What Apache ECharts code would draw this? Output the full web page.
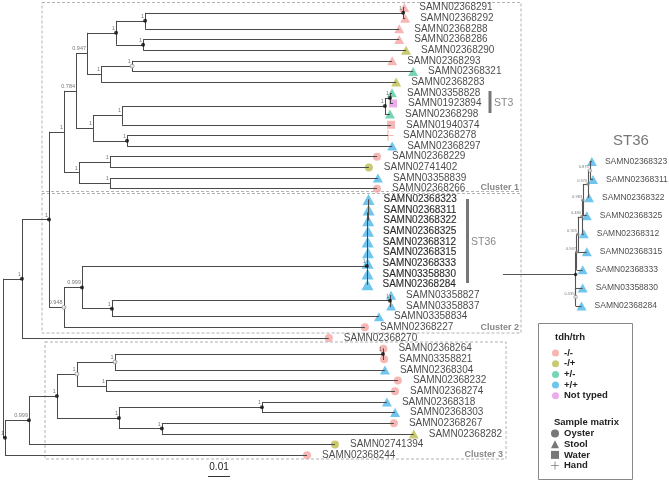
<!DOCTYPE html>
<html><head><meta charset="utf-8">
<script src="https://cdn.jsdelivr.net/npm/echarts@6/dist/echarts.min.js"></script>
<style>html,body{margin:0;padding:0;background:#fff}#c{width:669px;height:483px}</style>
</head><body><div id="c"></div>
<script>
// ---------------- DATA ----------------
// Newick clades (branch lengths in substitutions/site; internal label = support, suffix * = filled node, o = open node)
const cluster1Newick = "((((((SAMN02368291:0.0005,SAMN02368292:0.0009)1*:0.1173,SAMN02368288:0.1155)1*:0.0132,(SAMN02368286:0.1164,SAMN02368290:0.1195)1*:0.0123)1*:0.0132,((SAMN02368293:0.1182,SAMN02368321:0.1277)1o:0.0141,SAMN02368283:0.1341)1:0.0064)0.947:0.0050,((((SAMN03358828:0.0009,SAMN01923894:0.0014)1*:0.0023,SAMN02368298:0.0023)1*:0.1195,SAMN01940374:0.1223)1:0.0132,(SAMN02368278:0.1186,SAMN02368297:0.1205)1*:0.0155)1:0.0077)0.784:0.0055,((SAMN02368229:0.1214,SAMN02741402:0.1177)1:0.0141,(SAMN03358839:0.1218,SAMN02368266:0.1214)1:0.0141)1:0.0068)1:0.0068";
const cluster2Newick = "((ST36:0.1295,((SAMN03358827:0.0005,SAMN03358837:0.0005)1*:0.1264,SAMN03358834:0.1214)1*:0.0136)0.999*:0.0082,SAMN02368227:0.1368)0.948o:0.0068";
const cluster3Newick = "(((((SAMN02368264:0.0002,SAMN03358821:0.0005)1*:0.1218,SAMN02368304:0.1227)1o:0.0173,(SAMN02368232:0.1327,SAMN02368274:0.1314)1:0.0132)1o:0.0091,((SAMN02368318:0.0568,SAMN02368303:0.0605)1*:0.0650,(SAMN02368267:0.1055,SAMN02368282:0.1145)1*:0.0195)1*:0.0282)1*:0.0127,SAMN02741394:0.1391)0.999*:0.0109";
const st36Newick = "(((((((SAMN02368323:0.00009,SAMN02368311:0.00014)0.875o:0.00009,SAMN02368322:0.00005)0.970*:0.00023,SAMN02368325:0.00018)0.983*:0.00005,SAMN02368312:0.00009)0.480*:0.00018,SAMN02368315:0.00041)0.925*:0.00005,SAMN02368333:0.00027)0.947*:0.00005,(SAMN03358830:0.00032,SAMN02368284:0.00027)0.535o:0)*";
const rootNewick = "(((C1,C2)1*:0.0123,SAMN02368270:0.1395)1*:0.0086,(C3,SAMN02368244:0.1373)1*:0.0009)";

// leaf annotations, top-to-bottom order of the main tree
const leafTdh = ['-/-','-/-','-/-','-/-','-/+','-/-','+/-','-/+','+/-','Not typed','+/-','-/-','-/-','+/+','-/-','-/+','+/+','-/-',
  '+/+','+/+','+/+','+/+','+/+','+/+','+/+','+/+','+/+',
  '+/+','+/+','+/+','-/-','-/-',
  '-/-','-/-','+/+','-/-','-/-','+/+','+/+','-/-','-/+','-/+','-/-'];
const leafMatrix = ['Stool','Stool','Stool','Stool','Stool','Stool','Stool','Stool','Stool','Water','Stool','Water','Hand','Stool','Oyster','Oyster','Stool','Oyster',
  'Stool','Stool','Stool','Stool','Stool','Stool','Stool','Stool','Stool',
  'Stool','Stool','Stool','Oyster','Oyster',
  'Oyster','Oyster','Stool','Oyster','Oyster','Stool','Stool','Oyster','Stool','Oyster','Oyster'];
const tdhCategories = ['-/-','-/+','+/-','+/+','Not typed'];
const matrixCategories = ['Oyster','Stool','Water','Hand'];
const scaleBarLength = 0.01;

// ---------------- STYLE ----------------
const FONT = 'Arial, "Liberation Sans", sans-serif';
const tdhColors = {'-/-':'#f4a4a0','-/+':'#bbbb4e','+/-':'#56cba0','+/+':'#4bb7e9','Not typed':'#e796e6'};
const PLUS = 'path://M5.4,0H6.6V5.4H12V6.6H6.6V12H5.4V6.6H0V5.4H5.4Z';
const matrixSymbols = {Oyster:'circle', Stool:'triangle', Water:'rect', Hand:PLUS};
const insetXMin = -0.0033, insetXMax = 0.0042;
const scaleBarStart = 0.0932, scaleBarRow = 43.95;

// ---------------- TREE PARSING ----------------
function parseNewick(str){
  str = str.replace(/\s+/g,'').replace(/;$/,'');
  let i = 0;
  function node(){
    const n = {children:[], length:0, label:''};
    if (str[i] === '(') {
      i++; n.children.push(node());
      while (str[i] === ',') { i++; n.children.push(node()); }
      i++;
    }
    let lab = ''; while (i < str.length && ':,()'.indexOf(str[i]) < 0) lab += str[i++];
    n.label = lab;
    if (str[i] === ':') { i++; let num=''; while (i < str.length && ',()'.indexOf(str[i]) < 0) num += str[i++]; n.length = parseFloat(num); }
    return n;
  }
  return node();
}
function layoutTree(root, stemStart){
  const leaves=[], nodes=[], edges=[];
  (function walk(n, depth){
    n.depth = depth;
    if (!n.children.length) { n.row = leaves.length; leaves.push(n); return; }
    n.children.forEach(c => walk(c, depth + c.length));
    const f = n.children[0], l = n.children[n.children.length-1];
    n.row = (f.row + l.row)/2;
    edges.push([[depth, f.row],[depth, l.row]]);
    n.children.forEach(c => edges.push([[depth, c.row],[c.depth, c.row]]));
    nodes.push(n);
  })(root, 0);
  if (stemStart !== undefined) edges.push([[stemStart, root.row],[0, root.row]]);
  return {leaves, nodes, edges, root};
}
function parseSupport(label){
  let dot = null, text = label;
  if (text.endsWith('*')) { dot='solid'; text=text.slice(0,-1); }
  else if (text.endsWith('o')) { dot='open'; text=text.slice(0,-1); }
  return {dot, text};
}

const st36Stripped = st36Newick.replace(/\)[^:,()]+/g, ')') + '1*';
const mainNewick = rootNewick.replace('C1', cluster1Newick).replace('C2', cluster2Newick.replace('ST36', st36Stripped)).replace('C3', cluster3Newick);
const main = layoutTree(parseNewick(mainNewick));
const inset = layoutTree(parseNewick(st36Newick), insetXMin);
const st36Names = new Set(inset.leaves.map(l => l.label));
const leafInfo = {};
main.leaves.forEach((l, k) => { leafInfo[l.label] = {tdh: leafTdh[k], matrix: leafMatrix[k]}; });

function symbolSize(matrix, big){
  if (matrix === 'Stool') return big ? [12,11] : [10,9];
  if (matrix === 'Hand') return 11;
  return 8;
}
function leafData(leaves, opts){
  return leaves.map(l => {
    const info = leafInfo[l.label];
    const big = opts.big && st36Names.has(l.label);
    const sz = opts.inset ? [10,9] : symbolSize(info.matrix, big);
    const w = Array.isArray(sz) ? sz[0] : sz;
    return {
      name: l.label, value: [l.depth, l.row],
      symbol: matrixSymbols[info.matrix], symbolSize: sz,
      itemStyle: {color: tdhColors[info.tdh]},
      label: {distance: opts.inset ? 8 : 15 - w/2,
        color: big ? '#000' : '#1a1a1a',
        textBorderColor: big ? '#000' : 'transparent', textBorderWidth: big ? 0.15 : 0}
    };
  });
}
function nodeData(nodes, root, inInset){
  return nodes.filter(n => n.label).map(n => {
    const s = parseSupport(n.label);
    let style;
    if (s.dot === 'open') style = {color:'#fff', borderColor:'#777', borderWidth:0.8};
    else if (s.dot === 'solid') style = {color: (inInset && n !== root) ? '#888' : '#111'};
    else style = {color:'rgba(0,0,0,0)'};
    return {name: s.text, value: [n.depth, n.row], itemStyle: style};
  });
}

// ---------------- CHART ----------------
const chart = echarts.init(document.getElementById('c'));
const series = [
  {type:'lines', coordinateSystem:'cartesian2d', xAxisIndex:0, yAxisIndex:0, z:3, silent:true, clip:false,
   data: main.edges.map(e => ({coords:e})), lineStyle:{color:'#4a4a4a', width:1, opacity:1}},
  {type:'scatter', xAxisIndex:0, yAxisIndex:0, z:2, silent:true, clip:false,
   data: leafData(main.leaves, {big:true}),
   label:{show:true, position:'right', formatter:'{b}', fontSize:10, fontFamily:FONT}},
  {type:'scatter', xAxisIndex:0, yAxisIndex:0, z:4, silent:true, clip:false, symbolSize:4,
   data: nodeData(main.nodes, main.root, false),
   label:{show:true, position:'left', distance:0, offset:[1,-4.5], formatter:'{b}', fontSize:5.5, color:'#555', fontFamily:FONT}},
  {type:'lines', coordinateSystem:'cartesian2d', xAxisIndex:0, yAxisIndex:0, z:3, silent:true, clip:false,
   data:[{coords:[[scaleBarStart, scaleBarRow],[scaleBarStart+scaleBarLength, scaleBarRow]]}],
   lineStyle:{color:'#333', width:1, opacity:1},
   label:{show:true, position:'middle', formatter:String(scaleBarLength), distance:4, fontSize:10, color:'#222', fontFamily:FONT}},
  {type:'lines', coordinateSystem:'cartesian2d', xAxisIndex:1, yAxisIndex:1, z:3, silent:true, clip:false,
   data: inset.edges.map(e => ({coords:e})), lineStyle:{color:'#555', width:1.1, opacity:1}},
  {type:'scatter', xAxisIndex:1, yAxisIndex:1, z:2, silent:true, clip:false,
   data: leafData(inset.leaves, {inset:true}),
   label:{show:true, position:'right', formatter:'{b}', fontSize:8.5, fontFamily:FONT}},
  {type:'scatter', xAxisIndex:1, yAxisIndex:1, z:4, silent:true, clip:false, symbolSize:3.5,
   data: nodeData(inset.nodes, inset.root, true),
   label:{show:true, position:'left', distance:0, offset:[1,-3.5], formatter:'{b}', fontSize:4, color:'#555', fontFamily:FONT}}
];
tdhCategories.forEach(c => series.push({type:'scatter', name:c, data:[], itemStyle:{color:tdhColors[c]}}));
matrixCategories.forEach(c => series.push({type:'scatter', name:c, data:[], symbol:matrixSymbols[c], itemStyle:{color:'#555'}}));

const legendText = {fontSize:9.5, fontWeight:'bold', color:'#222', fontFamily:FONT};
function gtext(text, x, y, o){
  return {type:'text', x, y, silent:true, style:Object.assign({text, fill:'#888', fontFamily:FONT, fontSize:10,
    align:'left', verticalAlign:'middle', textAlign:'left', textVerticalAlign:'middle'}, o || {})};
}
function box(x, y, w, h){
  return {type:'rect', silent:true, z:-1, shape:{x, y, width:w, height:h},
    style:{fill:'none', stroke:'#a0a0a0', lineWidth:0.8, lineDash:[3,2]}};
}

chart.setOption({
  animation:false,
  backgroundColor:'#fff',
  grid:[
    {left:3, top:2.17, width:440, height:458.4},
    {left:503, top:152.5, width:165, height:162.5}
  ],
  xAxis:[
    {type:'value', gridIndex:0, min:0, max:0.2, show:false},
    {type:'value', gridIndex:1, min:insetXMin, max:insetXMax, show:false}
  ],
  yAxis:[
    {type:'value', gridIndex:0, min:-0.5, max:main.leaves.length-0.5, inverse:true, show:false},
    {type:'value', gridIndex:1, min:-0.5, max:inset.leaves.length-0.5, inverse:true, show:false}
  ],
  legend:[
    {orient:'vertical', left:552, top:348, padding:0, itemWidth:7, itemHeight:7, itemGap:0.7, selectedMode:false,
     data: tdhCategories.map(c => ({name:c, icon:'circle'})), textStyle:Object.assign({lineHeight:8}, legendText)},
    {orient:'vertical', left:551, top:428.5, padding:0, itemWidth:8, itemHeight:8, itemGap:0.7, selectedMode:false,
     data: matrixCategories.map(c => ({name:c, icon:matrixSymbols[c]})), textStyle:Object.assign({lineHeight:9}, legendText)}
  ],
  graphic:[
    box(42, 2.5, 479, 189),
    box(42, 193.5, 479, 139.5),
    box(45, 342, 461, 117),
    gtext('Cluster 1', 519, 188, {align:'right', textAlign:'right', fontWeight:'bold', fontSize:9}),
    gtext('Cluster 2', 519, 328, {align:'right', textAlign:'right', fontWeight:'bold', fontSize:9}),
    gtext('Cluster 3', 503, 455, {align:'right', textAlign:'right', fontWeight:'bold', fontSize:9}),
    {type:'rect', silent:true, shape:{x:488.5, y:91, width:3, height:22}, style:{fill:'#777'}},
    gtext('ST3', 494, 103, {fontSize:10.5}),
    {type:'rect', silent:true, shape:{x:466, y:199, width:3, height:84}, style:{fill:'#777'}},
    gtext('ST36', 471, 242, {fontSize:10.5}),
    gtext('ST36', 631, 141, {align:'center', textAlign:'center', fontSize:15, fill:'#777'}),
    {type:'rect', silent:true, shape:{x:538.5, y:323.5, width:94, height:156}, style:{fill:'none', stroke:'#888', lineWidth:1}},
    gtext('tdh/trh', 555, 337, {fill:'#222', fontWeight:'bold', fontSize:9.5}),
    gtext('Sample matrix', 554, 422, {fill:'#222', fontWeight:'bold', fontSize:9.5})
  ],
  series
});
</script></body></html>
